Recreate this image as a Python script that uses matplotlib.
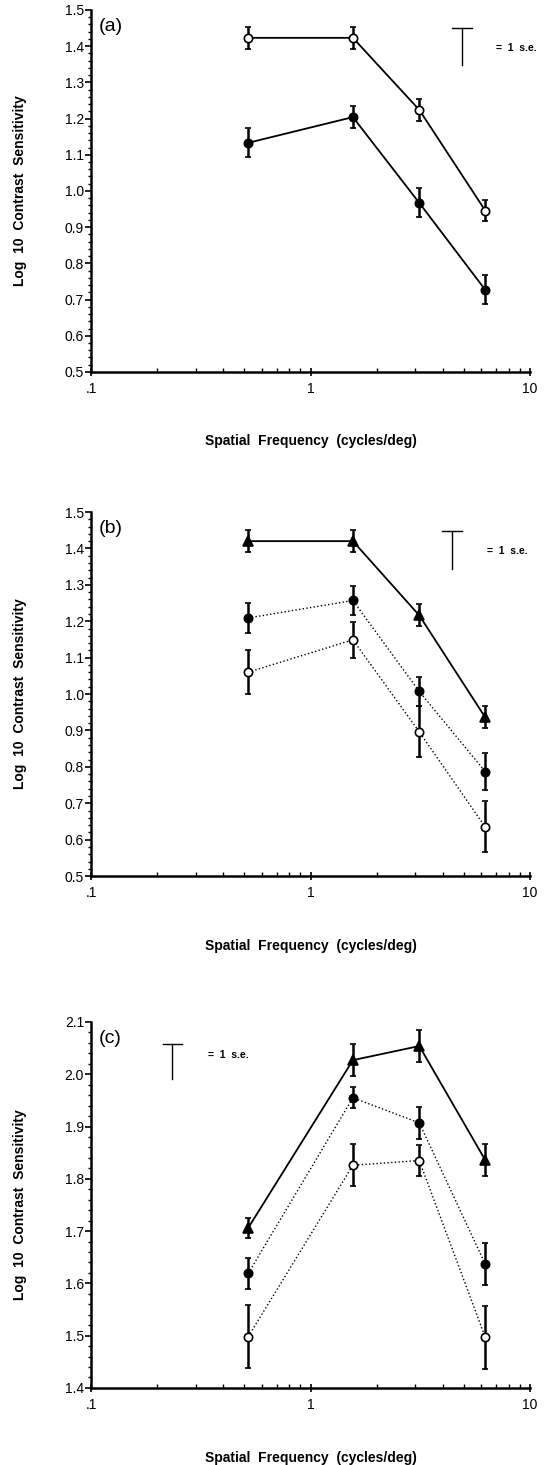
import matplotlib
matplotlib.use("Agg")
import matplotlib.pyplot as plt
from matplotlib.ticker import MultipleLocator, FixedLocator, NullFormatter

plt.rcParams['font.family'] = ['Liberation Sans', 'DejaVu Sans']

# --- data ---
freq = [0.52, 1.56, 3.13, 6.25]

# panel (a)
a_open = [1.423, 1.423, 1.224, 0.946]
a_open_se = [0.03, 0.03, 0.03, 0.03]
a_fill = [1.133, 1.204, 0.967, 0.727]
a_fill_se = [0.04, 0.03, 0.04, 0.04]

# panel (b)
b_tri = [1.420, 1.420, 1.216, 0.936]
b_tri_se = [0.03, 0.03, 0.03, 0.03]
b_fill = [1.209, 1.257, 1.007, 0.787]
b_fill_se = [0.04, 0.04, 0.04, 0.05]
b_open = [1.060, 1.149, 0.896, 0.635]
b_open_se = [0.06, 0.05, 0.07, 0.07]

# panel (c)
c_tri = [1.706, 2.027, 2.054, 1.836]
c_tri_se = [0.02, 0.03, 0.03, 0.03]
c_fill = [1.619, 1.955, 1.907, 1.637]
c_fill_se = [0.03, 0.02, 0.03, 0.04]
c_open = [1.498, 1.826, 1.835, 1.497]
c_open_se = [0.06, 0.04, 0.03, 0.06]

# scale bars "= 1 s.e." : (x, y bottom, y top, text x, text y)
sebar_a = (4.9, 1.347, 1.450, 7.0, 1.395)
sebar_b = (4.4, 1.344, 1.448, 6.4, 1.393)
sebar_c = (0.235, 1.990, 2.058, 0.34, 2.037)

fig = plt.figure(figsize=(5.54, 14.65), dpi=100)

axes_pos = [
    [0.1643, 0.7461, 0.7924, 0.2471],
    [0.1643, 0.4020, 0.7924, 0.2485],
    [0.1643, 0.0526, 0.7924, 0.2498],
]


def series(ax, y, se, marker, face, ls):
    ax.errorbar(freq, y, yerr=se, color='black', lw=1.3 if ls == '-' else 1.0,
                ls=ls, marker=marker, ms=6 if marker == 'o' else 6.5,
                mfc=face, mec='black', mew=1.2, ecolor='black',
                elinewidth=1.8, capsize=2.5, capthick=1.5, zorder=3)


def se_bar(ax, bar):
    x, y0, y1, tx, ty = bar
    d = 10 ** 0.045
    ax.plot([x, x], [y0, y1], color='black', lw=1.0)
    ax.plot([x / d, x * d], [y1, y1], color='black', lw=1.0)
    ax.text(tx, ty, '=  1  s.e.', fontsize=7.5, fontweight='bold', va='center', ha='left')


def style(ax, ylo, yhi, label):
    ax.set_xscale('log')
    ax.set_xlim(0.1, 10)
    ax.set_ylim(ylo, yhi)
    ax.spines['top'].set_visible(False)
    ax.spines['right'].set_visible(False)
    ax.spines['left'].set_linewidth(1.8)
    ax.spines['bottom'].set_linewidth(1.8)
    ax.xaxis.set_major_locator(FixedLocator([0.1, 1, 10]))
    ax.set_xticklabels(['.1', '1', '10'])
    ax.xaxis.set_minor_formatter(NullFormatter())
    ax.yaxis.set_major_locator(MultipleLocator(0.1))
    ax.yaxis.set_minor_locator(MultipleLocator(0.02))
    ax.yaxis.set_major_formatter(matplotlib.ticker.FormatStrFormatter('%.1f'))
    ax.tick_params(axis='y', which='major', direction='out', length=4, width=1.2, labelsize=10, pad=1)
    ax.tick_params(axis='y', which='minor', direction='out', length=2, width=1.0)
    ax.tick_params(axis='x', which='major', direction='inout', length=6, width=1.2, labelsize=10, pad=4)
    ax.tick_params(axis='x', which='minor', direction='in', length=3, width=1.0)
    ax.set_ylabel('Log  10  Contrast  Sensitivity', fontsize=10, fontweight='bold')
    ax.yaxis.set_label_coords(-0.145, 0.5)
    ax.set_xlabel('Spatial  Frequency  (cycles/deg)', fontsize=10, fontweight='bold')
    ax.xaxis.set_label_coords(0.5, -0.172)
    ax.text(0.018, 0.955, label, transform=ax.transAxes, fontsize=14, va='center', ha='left')


ax_a = fig.add_axes(axes_pos[0])
series(ax_a, a_open, a_open_se, 'o', 'white', '-')
series(ax_a, a_fill, a_fill_se, 'o', 'black', '-')
se_bar(ax_a, sebar_a)
style(ax_a, 0.5, 1.5, '(a)')

ax_b = fig.add_axes(axes_pos[1])
series(ax_b, b_tri, b_tri_se, '^', 'black', '-')
series(ax_b, b_fill, b_fill_se, 'o', 'black', ':')
series(ax_b, b_open, b_open_se, 'o', 'white', ':')
se_bar(ax_b, sebar_b)
style(ax_b, 0.5, 1.5, '(b)')

ax_c = fig.add_axes(axes_pos[2])
series(ax_c, c_tri, c_tri_se, '^', 'black', '-')
series(ax_c, c_fill, c_fill_se, 'o', 'black', ':')
series(ax_c, c_open, c_open_se, 'o', 'white', ':')
se_bar(ax_c, sebar_c)
style(ax_c, 1.4, 2.1, '(c)')

fig.savefig('out.png', dpi=100)
